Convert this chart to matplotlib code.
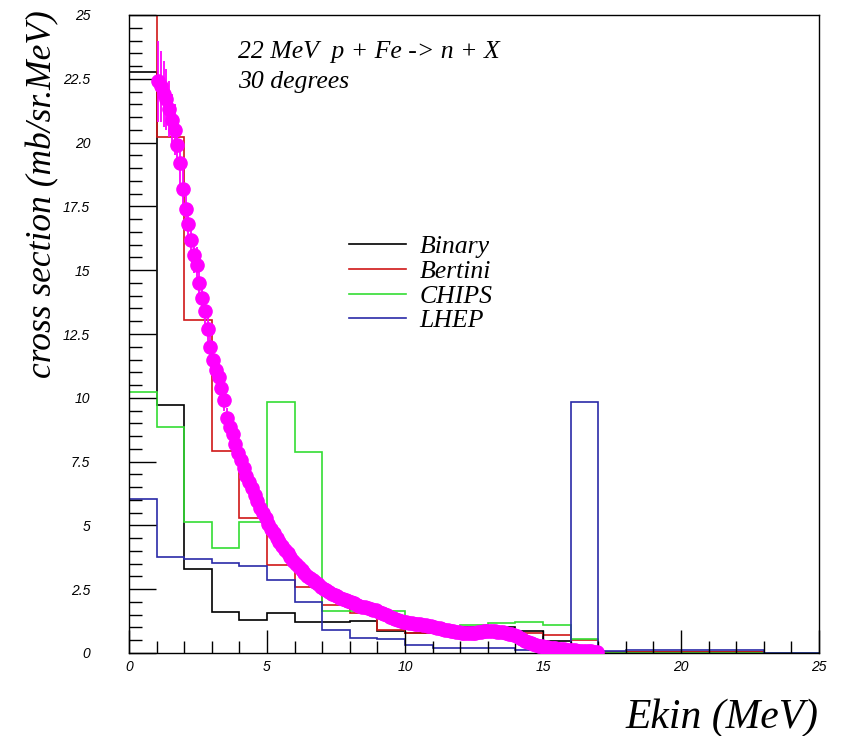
import matplotlib
matplotlib.use("Agg")
import matplotlib.pyplot as plt
from matplotlib.ticker import MultipleLocator

# histogram bin edges (MeV) and model predictions per bin (mb/sr.MeV)
edges = list(range(0, 26))
binary = [22.78, 9.72, 3.29, 1.62, 1.29, 1.58, 1.23, 1.23, 1.25, 0.85, 0.80, 0.80, 1.03,
          1.03, 0.85, 0.48, 0.17, 0.04, 0.04, 0.04, 0.04, 0.04, 0.04, 0.0, 0.0]
bertini = [27.0, 20.2, 13.05, 7.93, 5.29, 3.45, 2.57, 1.88, 1.57, 0.90, 0.80, 0.80, 0.95,
           0.95, 0.80, 0.70, 0.50, 0.03, 0.03, 0.02, 0.02, 0.02, 0.02, 0.0, 0.0]
chips = [10.24, 8.86, 5.14, 4.10, 5.14, 9.82, 7.89, 1.66, 1.66, 1.66, 1.23, 1.00, 1.09,
         1.18, 1.21, 1.10, 0.55, 0.0, 0.0, 0.0, 0.0, 0.0, 0.0, 0.0, 0.0]
lhep = [6.03, 3.78, 3.67, 3.51, 3.41, 2.86, 2.01, 0.90, 0.58, 0.54, 0.31, 0.21, 0.21,
        0.21, 0.10, 0.09, 9.85, 0.08, 0.10, 0.10, 0.12, 0.10, 0.12, 0.0, 0.0]

# measured data points
data_x = [1.05, 1.15, 1.25, 1.35, 1.45, 1.55, 1.65, 1.75, 1.85, 1.95,
          2.05, 2.15, 2.25, 2.35, 2.45, 2.55, 2.65, 2.75, 2.85, 2.95,
          3.05, 3.15, 3.25, 3.35, 3.45, 3.55, 3.65, 3.75, 3.85, 3.95,
          4.05, 4.15, 4.25, 4.35, 4.45, 4.55, 4.65, 4.75, 4.85, 4.95,
          5.05, 5.15, 5.25, 5.35, 5.45, 5.55, 5.65, 5.75, 5.85, 5.95,
          6.05, 6.15, 6.25, 6.35, 6.45, 6.55, 6.65, 6.75, 6.85, 6.95,
          7.05, 7.15, 7.25, 7.35, 7.45, 7.55, 7.65, 7.75, 7.85, 7.95,
          8.05, 8.15, 8.25, 8.35, 8.45, 8.55, 8.65, 8.75, 8.85, 8.95,
          9.05, 9.15, 9.25, 9.35, 9.45, 9.55, 9.65, 9.75, 9.85, 9.95,
          10.05, 10.15, 10.25, 10.35, 10.45, 10.55, 10.65, 10.75, 10.85, 10.95,
          11.05, 11.15, 11.25, 11.35, 11.45, 11.55, 11.65, 11.75, 11.85, 11.95,
          12.05, 12.15, 12.25, 12.35, 12.45, 12.55, 12.65, 12.75, 12.85, 12.95,
          13.05, 13.15, 13.25, 13.35, 13.45, 13.55, 13.65, 13.75, 13.85, 13.95,
          14.05, 14.15, 14.25, 14.35, 14.45, 14.55, 14.65, 14.75, 14.85, 14.95,
          15.05, 15.15, 15.25, 15.35, 15.45, 15.55, 15.65, 15.75, 15.85, 15.95,
          16.05, 16.15, 16.25, 16.35, 16.45, 16.55, 16.65, 16.75, 16.85, 16.95]
data_y = [22.4, 22.2, 21.9, 21.7, 21.3, 20.9, 20.5, 19.9, 19.2, 18.2,
          17.4, 16.8, 16.2, 15.6, 15.2, 14.5, 13.9, 13.4, 12.7, 12.0,
          11.5, 11.1, 10.8, 10.4, 9.9, 9.2, 8.85, 8.6, 8.2, 7.85,
          7.55, 7.25, 6.95, 6.7, 6.45, 6.2, 5.95, 5.7, 5.5, 5.3,
          5.05, 4.85, 4.7, 4.5, 4.35, 4.2, 4.05, 3.9, 3.75, 3.62,
          3.5, 3.38, 3.26, 3.15, 3.03, 2.95, 2.86, 2.78, 2.7, 2.6,
          2.52, 2.46, 2.4, 2.33, 2.28, 2.22, 2.16, 2.11, 2.06, 2.02,
          1.98, 1.94, 1.9, 1.86, 1.82, 1.8, 1.76, 1.73, 1.7, 1.67,
          1.62, 1.57, 1.52, 1.47, 1.42, 1.38, 1.33, 1.29, 1.25, 1.22,
          1.2, 1.18, 1.17, 1.15, 1.14, 1.12, 1.1, 1.08, 1.06, 1.04,
          1.02, 0.99, 0.97, 0.94, 0.92, 0.9, 0.87, 0.85, 0.83, 0.81,
          0.8, 0.79, 0.78, 0.78, 0.79, 0.8, 0.82, 0.84, 0.86, 0.87,
          0.87, 0.86, 0.85, 0.84, 0.83, 0.81, 0.79, 0.76, 0.73, 0.7,
          0.65, 0.59, 0.53, 0.48, 0.43, 0.39, 0.35, 0.32, 0.29, 0.26,
          0.24, 0.22, 0.21, 0.2, 0.18, 0.17, 0.15, 0.14, 0.13, 0.12,
          0.11, 0.1, 0.09, 0.08, 0.08, 0.07, 0.06, 0.06, 0.05, 0.05]
data_err = [1.6, 1.4, 1.3, 1.2, 1.1, 1.0, 1.0, 0.9, 0.9, 0.8,
            0.8, 0.8, 0.7, 0.7, 0.7, 0.6, 0.6, 0.6, 0.5, 0.5,
            0.5, 0.5, 0.45, 0.45, 0.4, 0.4, 0.4, 0.35, 0.35, 0.35,
            0.3, 0.3, 0.3, 0.3, 0.28, 0.27, 0.26, 0.25, 0.24, 0.23,
            0.22, 0.21, 0.2, 0.2, 0.19, 0.18, 0.18, 0.17, 0.17, 0.16,
            0.16, 0.15, 0.15, 0.14, 0.14, 0.13, 0.13, 0.13, 0.12, 0.12,
            0.12, 0.11, 0.11, 0.11, 0.1, 0.1, 0.1, 0.1, 0.1, 0.09,
            0.09, 0.09, 0.12, 0.09, 0.09, 0.08, 0.08, 0.08, 0.08, 0.08,
            0.08, 0.08, 0.07, 0.07, 0.07, 0.07, 0.07, 0.07, 0.07, 0.07,
            0.07, 0.07, 0.07, 0.07, 0.07, 0.07, 0.07, 0.2, 0.07, 0.06,
            0.06, 0.06, 0.06, 0.06, 0.06, 0.06, 0.06, 0.06, 0.06, 0.06,
            0.06, 0.06, 0.06, 0.06, 0.06, 0.06, 0.06, 0.06, 0.06, 0.06,
            0.06, 0.06, 0.06, 0.06, 0.06, 0.06, 0.06, 0.06, 0.06, 0.05,
            0.05, 0.05, 0.05, 0.04, 0.04, 0.04, 0.04, 0.04, 0.04, 0.03,
            0.03, 0.03, 0.03, 0.03, 0.03, 0.03, 0.03, 0.03, 0.02, 0.02,
            0.02, 0.02, 0.02, 0.02, 0.02, 0.02, 0.02, 0.02, 0.02, 0.02]

models = ["Binary", "Bertini", "CHIPS", "LHEP"]
colors = ["black", "#d01818", "#33dd33", "#2a2aa8"]

serif = ["Liberation Serif", "DejaVu Serif"]

fig = plt.figure(figsize=(8.46, 7.36), dpi=100)
ax = fig.add_axes([129 / 846, 1 - 653 / 736, 690 / 846, 638 / 736])

for vals, name, col in zip([binary, bertini, chips, lhep], models, colors):
    ax.stairs(vals, edges, baseline=0, color=col, lw=1.2, label=name)

ax.errorbar(data_x, data_y, yerr=data_err, fmt="o", color="#ff00ff", ms=9.5,
            mec="#ff00ff", elinewidth=1.3, capsize=0, zorder=5)

ax.set_xlim(0, 25)
ax.set_ylim(0, 25)
ax.set_xticks([0, 5, 10, 15, 20, 25])
ax.set_yticks([0, 2.5, 5, 7.5, 10, 12.5, 15, 17.5, 20, 22.5, 25])
ax.set_yticklabels(["0", "2.5", "5", "7.5", "10", "12.5", "15", "17.5", "20", "22.5", "25"])
ax.xaxis.set_minor_locator(MultipleLocator(1))
ax.yaxis.set_minor_locator(MultipleLocator(0.5))
ax.tick_params(axis="x", which="major", direction="in", length=16.5, width=1, pad=5)
ax.tick_params(axis="x", which="minor", direction="in", length=8.5, width=1)
ax.tick_params(axis="y", which="major", direction="in", length=19.5, width=1, pad=28)
ax.tick_params(axis="y", which="minor", direction="in", length=9, width=1)
for lab in ax.get_xticklabels() + ax.get_yticklabels():
    lab.set_family(["Liberation Sans", "DejaVu Sans"])
    lab.set_fontstyle("italic")
    lab.set_fontsize(10)
for lab in ax.get_yticklabels():
    lab.set_horizontalalignment("right")
for sp in ax.spines.values():
    sp.set_linewidth(1)

fig.text(43 / 846, 1 - 10 / 736, "cross section (mb/sr.MeV)", rotation=90,
         ha="center", va="top", family=serif, style="italic", fontsize=25.5)
fig.text(818 / 846, 1 - 718 / 736, "Ekin (MeV)", ha="right", va="center",
         family=serif, style="italic", fontsize=30)

ax.text(0.158, 0.942, "22 MeV  p + Fe -> n + X", transform=ax.transAxes,
        family=serif, style="italic", fontsize=18.5, va="center")
ax.text(0.158, 0.895, "30 degrees", transform=ax.transAxes,
        family=serif, style="italic", fontsize=18.5, va="center")

leg = ax.legend(loc="upper left", bbox_to_anchor=(0.319, 0.655), frameon=False,
                prop={"family": serif, "style": "italic", "size": 18.5},
                handlelength=2.2, handletextpad=0.55, labelspacing=0.07,
                borderaxespad=0, borderpad=0)
for h in leg.get_lines():
    h.set_linewidth(1.2)

fig.savefig("out.png", dpi=100, facecolor="white")
